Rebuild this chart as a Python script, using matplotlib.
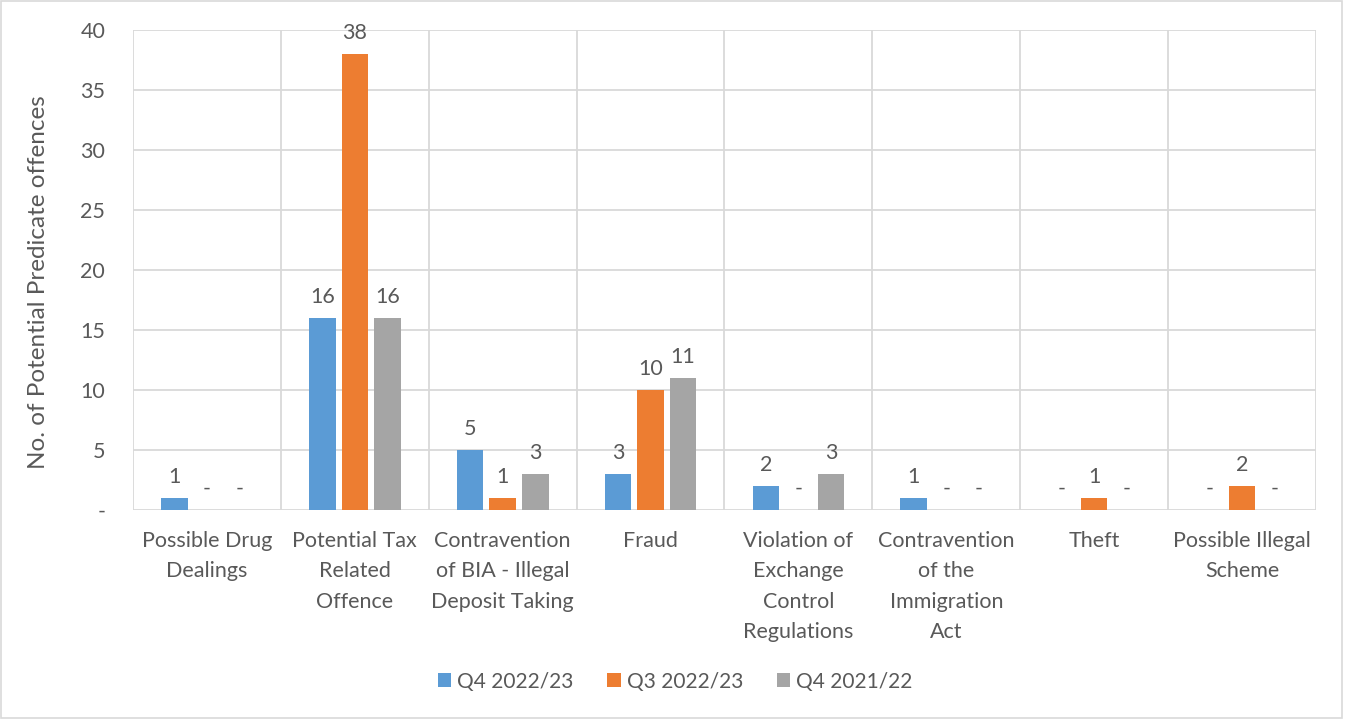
import matplotlib
matplotlib.use("Agg")
import matplotlib.pyplot as plt
import numpy as np
from matplotlib.patches import Rectangle

categories = ["Possible Drug\nDealings", "Potential Tax\nRelated\nOffence",
              "Contravention\nof BIA - Illegal\nDeposit Taking", "Fraud",
              "Violation of\nExchange\nControl\nRegulations",
              "Contravention\nof the\nImmigration\nAct", "Theft",
              "Possible Illegal\nScheme"]
series_names = ["Q4 2022/23", "Q3 2022/23", "Q4 2021/22"]
q4_2223 = [1, 16, 5, 3, 2, 1, 0, 0]
q3_2223 = [0, 38, 1, 10, 0, 0, 1, 2]
q4_2122 = [0, 16, 3, 11, 3, 0, 0, 0]
colors = ["#5B9BD5", "#ED7D31", "#A5A5A5"]
yticks = [0, 5, 10, 15, 20, 25, 30, 35, 40]
ytick_labels = ["-", "5", "10", "15", "20", "25", "30", "35", "40"]

plt.rcParams['font.family'] = ['Lato', 'DejaVu Sans']
txt = "#595959"
grid = "#D9D9D9"
fs = 15.5

fig = plt.figure(figsize=(13.45, 7.19), dpi=100)
fig.patches.append(Rectangle((0.001, 0.002), 0.997, 0.996, transform=fig.transFigure,
                             fill=False, edgecolor=grid, linewidth=1.2))
ax = fig.add_axes([0.0989, 0.2907, 0.8795, 0.6676])

x = np.arange(len(categories))
width = 0.18
offsets = [-0.22, 0, 0.22]
for vals, name, col, off in zip([q4_2223, q3_2223, q4_2122], series_names, colors, offsets):
    ax.bar(x + off, vals, width, color=col, label=name, zorder=3)
    for xi, v in zip(x + off, vals):
        ax.annotate(str(v) if v else "-", (xi, v), xytext=(0, 8), textcoords="offset points",
                    ha="center", va="bottom", fontsize=fs, color=txt)

ax.set_xlim(-0.5, len(categories) - 0.5)
ax.set_ylim(0, 40)
ax.set_yticks(yticks)
ax.set_yticklabels(ytick_labels)
ax.set_xticks(x)
ax.set_xticklabels(categories, linespacing=1.65, va="top")
ax.set_xticks(np.arange(-0.5, len(categories)), minor=True)
ax.tick_params(axis="x", which="both", length=0, pad=15, labelsize=fs, labelcolor=txt)
ax.tick_params(axis="y", length=0, pad=20, labelsize=fs, labelcolor=txt)
ax.grid(axis="y", color=grid, linewidth=1.3, zorder=0)
ax.grid(axis="x", which="minor", color=grid, linewidth=1.3, zorder=0)
ax.grid(axis="x", which="major", visible=False)
for s in ax.spines.values():
    s.set_visible(False)
ax.set_ylabel("No. of Potential Predicate offences", fontsize=17.5, color=txt, labelpad=12)
ax.yaxis.set_label_coords(-0.071, 0.475)

leg = fig.legend(loc="center", bbox_to_anchor=(0.502, 0.052), ncol=3, frameon=False,
                 fontsize=15, handlelength=0.65, handleheight=0.65, handletextpad=0.3,
                 columnspacing=1.6, labelcolor=txt)

fig.savefig("out.png", dpi=100)
